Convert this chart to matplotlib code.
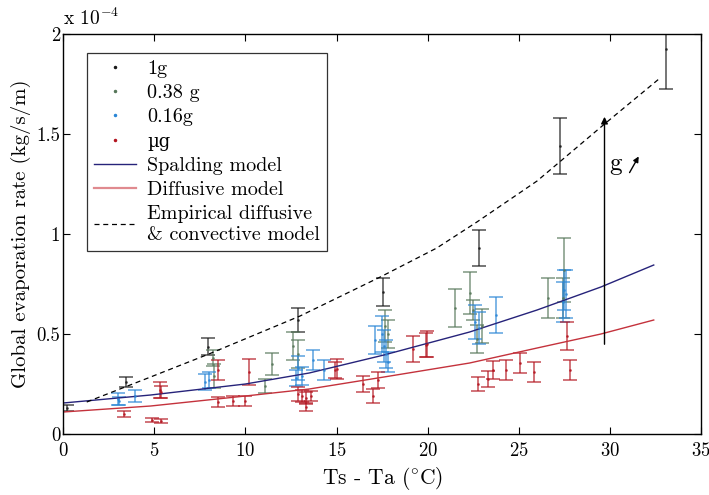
import matplotlib
matplotlib.use("Agg")
import matplotlib.pyplot as plt
from matplotlib.lines import Line2D
from matplotlib.ticker import FuncFormatter, MultipleLocator

plt.rcParams["font.family"] = ["cmr10", "DejaVu Serif"]
plt.rcParams["mathtext.fontset"] = "cm"
plt.rcParams["axes.formatter.use_mathtext"] = True

# evaporation rates in units of 1e-4 kg/s/m
one_g_x = [0.2, 3.45, 7.95, 12.9, 17.55, 22.8, 27.25, 33.1]
one_g_y = [0.13, 0.26, 0.4375, 0.57, 0.71, 0.93, 1.44, 1.925]
one_g_err = [0.015, 0.025, 0.043, 0.06, 0.07, 0.09, 0.14, 0.2]

mars_x = [8.2, 8.3, 11.1, 11.45, 12.6, 12.9, 17.65, 17.8, 21.5, 22.3, 22.5,
          22.7, 23.0, 26.6, 27.45, 27.5]
mars_y = [0.38, 0.29, 0.24, 0.35, 0.44, 0.40, 0.54, 0.50, 0.63, 0.705, 0.62,
          0.475, 0.54, 0.68, 0.68, 0.82]
mars_err = [0.04, 0.06, 0.035, 0.055, 0.07, 0.07, 0.08, 0.07, 0.095, 0.105,
            0.05, 0.07, 0.085, 0.1, 0.1, 0.16]

moon_x = [3.0, 3.05, 3.95, 7.8, 8.0, 12.8, 12.9, 13.1, 13.7, 14.3, 17.1, 17.5,
          17.6, 17.7, 17.8, 22.6, 22.8, 23.75, 27.4, 27.5, 27.6]
moon_y = [0.175, 0.165, 0.19, 0.26, 0.27, 0.28, 0.33, 0.29, 0.37, 0.32, 0.47,
          0.50, 0.44, 0.40, 0.36, 0.56, 0.53, 0.595, 0.66, 0.72, 0.70]
moon_err = [0.03, 0.02, 0.03, 0.04, 0.04, 0.04, 0.06, 0.045, 0.05, 0.05, 0.07,
            0.09, 0.08, 0.07, 0.05, 0.085, 0.08, 0.09, 0.1, 0.1, 0.12]

micro_x = [3.35, 4.9, 5.4, 5.3, 5.35, 8.5, 8.5, 9.3, 10.0, 10.2, 12.9, 13.1,
           13.3, 13.6, 13.3, 14.9, 15.0, 16.45, 17.0, 17.3, 19.2, 19.9, 19.95,
           22.75, 23.3, 23.6, 24.3, 25.05, 25.85, 27.65, 27.8]
micro_y = [0.10, 0.07, 0.065, 0.22, 0.21, 0.32, 0.16, 0.165, 0.165, 0.31, 0.20,
           0.19, 0.18, 0.19, 0.135, 0.32, 0.325, 0.25, 0.19, 0.27, 0.425, 0.445,
           0.45, 0.25, 0.275, 0.32, 0.32, 0.355, 0.31, 0.49, 0.32]
micro_err = [0.015, 0.012, 0.01, 0.04, 0.03, 0.05, 0.025, 0.025, 0.025, 0.065,
             0.035, 0.03, 0.03, 0.025, 0.02, 0.04, 0.05, 0.04, 0.035, 0.04,
             0.065, 0.06, 0.065, 0.035, 0.04, 0.045, 0.05, 0.05, 0.05, 0.07,
             0.05]

# model curves
spalding_x = [0, 4.8, 10, 13.5, 17.6, 22.3, 26, 29.5, 32.4]
spalding_y = [0.155, 0.195, 0.25, 0.305, 0.395, 0.51, 0.62, 0.735, 0.845]
diffusive_x = [0, 4.8, 10, 13.5, 17.6, 22.3, 26, 29.5, 32.4]
diffusive_y = [0.11, 0.14, 0.19, 0.225, 0.285, 0.355, 0.43, 0.50, 0.57]
empirical_x = [1.3, 4.8, 8, 13, 17.4, 20.5, 22.7, 26, 29.7, 32.75]
empirical_y = [0.16, 0.285, 0.40, 0.59, 0.785, 0.93, 1.06, 1.265, 1.55, 1.78]

series = [
    ("1g", one_g_x, one_g_y, one_g_err, "#1a1a1a"),
    ("0.38 g", mars_x, mars_y, mars_err, "#57775a"),
    ("0.16g", moon_x, moon_y, moon_err, "#2a86d6"),
    ("\u00b5g", micro_x, micro_y, micro_err, "#b3141f"),
]

fig = plt.figure(figsize=(7.09, 4.95), dpi=100)
ax = fig.add_axes([0.0889, 0.1232, 0.9, 0.8081])

for label, xs, ys, errs, color in series:
    ax.errorbar(xs, ys, yerr=errs, fmt=".", color=color, markersize=2,
                elinewidth=1.2, capsize=4.7, capthick=1.2, alpha=0.7)

ax.plot(spalding_x, spalding_y, color="#26237a", lw=1.0)
ax.plot(diffusive_x, diffusive_y, color="#c4323c", lw=1.0)
ax.plot(empirical_x, empirical_y, color="black", lw=0.9, ls=(0, (4, 3)))

# gravity arrow
ax.annotate("", xy=(29.7, 1.6), xytext=(29.7, 0.435),
            arrowprops=dict(arrowstyle="-|>", color="black", lw=1.0,
                            mutation_scale=10))
ax.text(30.3, 1.35, "g", fontsize=18, ha="center", va="center")
ax.annotate("", xy=(31.65, 1.40), xytext=(31.0, 1.295),
            arrowprops=dict(arrowstyle="-|>", color="black", lw=1.0,
                            mutation_scale=8))

ax.set_xlim(0, 35)
ax.set_ylim(0, 2)
ax.xaxis.set_major_locator(MultipleLocator(5))
ax.yaxis.set_major_locator(MultipleLocator(0.5))
ax.yaxis.set_major_formatter(FuncFormatter(lambda v, p: "%g" % v))
ax.tick_params(direction="in", top=True, right=True, length=5, width=0.8,
               labelsize=13.5)
ax.tick_params(axis="x", pad=6)
ax.tick_params(axis="y", pad=2)
for spine in ax.spines.values():
    spine.set_linewidth(1.0)

ax.text(0.0, 1.012, r"x 10$^{-4}$", transform=ax.transAxes, fontsize=14,
        ha="left", va="bottom")
ax.set_xlabel(r"Ts - Ta ($^{\circ}$C)", fontsize=15.5, labelpad=3)
ax.set_ylabel("Global evaporation rate (kg/s/m)", fontsize=15, labelpad=4)

handles = [Line2D([], [], ls="none", marker=".", markersize=3, color=c)
           for _, _, _, _, c in series]
handles += [
    Line2D([], [], color="#26237a", lw=1.0),
    Line2D([], [], color="#e08a8f", lw=1.6),
    Line2D([], [], color="black", lw=0.9, ls=(0, (4, 3))),
]
labels = [s[0] for s in series] + ["Spalding model", "Diffusive model",
                                   "Empirical diffusive\n& convective model"]
leg = ax.legend(handles, labels, loc="upper left",
                bbox_to_anchor=(0.0376, 0.9525), fontsize=14.5, fancybox=False,
                edgecolor="#333333", framealpha=1, labelspacing=0.3,
                handlelength=2.1, handletextpad=0.55, borderpad=0.35,
                borderaxespad=0)
leg.get_frame().set_linewidth(0.9)
leg.get_texts()[3].set_fontfamily("DejaVu Serif")
leg.get_texts()[3].set_fontsize(13)

fig.savefig("out.png", dpi=100)
